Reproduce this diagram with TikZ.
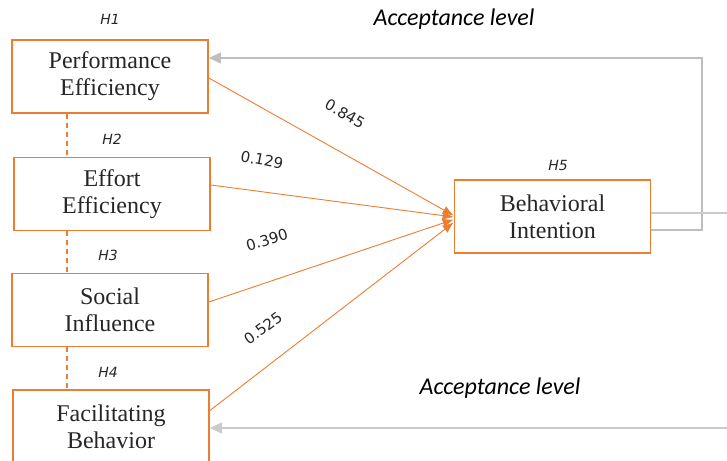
\documentclass[tikz,border=0pt]{standalone}
\usepackage{fontspec}
\setmainfont{Liberation Serif}
\newfontfamily\labelfont{DejaVu Sans}
\newfontfamily\accfont{Carlito}
\usetikzlibrary{arrows.meta}
\definecolor{boxorange}{RGB}{237,125,49}
\definecolor{loopgray}{RGB}{190,190,190}
\tikzset{
  construct/.style={draw=boxorange,line width=1.8pt,minimum width=196pt,minimum height=73pt,
    align=center,font=\fontsize{24}{27}\selectfont,inner sep=0pt,text=black!85},
  hyp/.style={font=\labelfont\itshape\fontsize{14}{16}\selectfont,text=black!85},
  coef/.style={font=\labelfont\fontsize{15}{17}\selectfont,text=black!85,inner sep=1pt},
  acc/.style={font=\accfont\itshape\fontsize{24}{26}\selectfont},
  path/.style={draw=boxorange,line width=0.9pt,-{Latex[length=11pt,width=9pt]}},
  link/.style={draw=boxorange,line width=1.5pt,dashed,dash pattern=on 5pt off 4pt},
  feedback/.style={draw=loopgray,line width=1.2pt,-{Triangle[length=12pt,width=11pt]}}
}
\begin{document}
\begin{tikzpicture}[x=1pt,y=-1pt]
    \useasboundingbox (0,0) rectangle (727,460);
    \clip (0,0) rectangle (727,460);
    % constructs
    \node[construct] (pe) at (110,76.5) {Performance\\Efficiency};
    \node[construct] (ee) at (112,194) {Effort\\Efficiency};
    \node[construct] (si) at (110,310) {Social\\Influence};
    \node[construct] (fb) at (111,426.5) {Facilitating\\Behavior};
    \node[construct] (bi) at (552.5,216.5) {Behavioral\\Intention};
    % hypotheses
    \node[hyp] (h1) at (110,19) {H1};
    \node[hyp] (h2) at (112,139) {H2};
    \node[hyp] (h3) at (108,255) {H3};
    \node[hyp] (h4) at (108,372) {H4};
    \node[hyp] (h5) at (558,165) {H5};
    \node[acc] (acctop) at (454,19) {Acceptance level};
    \node[acc] (accbot) at (500,388) {Acceptance level};
    % dashed links
    \draw[link] ([xshift=-43pt]pe.south) -- ([xshift=-45pt]ee.north);
    \draw[link] ([xshift=-45pt]ee.south) -- ([xshift=-43pt]si.north);
    \draw[link] ([xshift=-43pt]si.south) -- ([xshift=-44pt]fb.north);
    % paths
    \draw[path] ([yshift=-1.5pt]pe.east) -- ([yshift=1pt]bi.west);
    \draw[path] ([yshift=9pt]ee.east) -- ([yshift=-0.5pt]bi.west);
    \draw[path] ([yshift=8pt]si.east) -- ([yshift=-3pt]bi.west);
    \draw[path] ([yshift=16pt]fb.east) -- ([yshift=-6pt]bi.west);
    \node[coef,rotate=-30] (c1) at (345,114) {0.845};
    \node[coef,rotate=-11] (c2) at (262,160) {0.129};
    \node[coef,rotate=17] (c3) at (267,240) {0.390};
    \node[coef,rotate=36] (c4) at (263,328) {0.525};
    % feedback loops
    \coordinate (topturn) at (702,58);
    \coordinate (botturn) at (760,428);
    \draw[feedback] ([yshift=-13.5pt]bi.east) -| (topturn) -- (pe.east |- topturn);
    \draw[feedback,draw=loopgray!80] ([yshift=3.5pt]bi.east) -| (botturn) -- (fb.east |- botturn);
\end{tikzpicture}
\end{document}
